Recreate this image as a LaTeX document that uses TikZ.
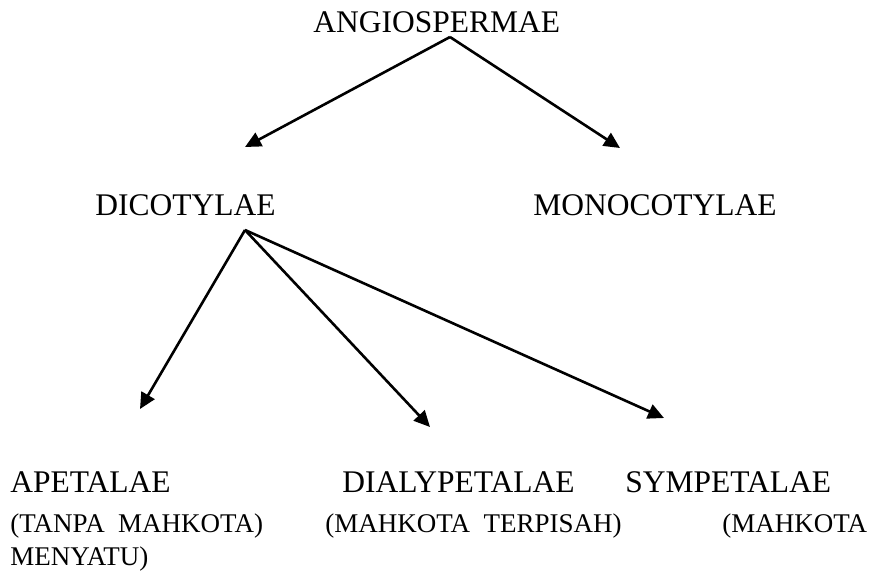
\documentclass[tikz,border=0pt]{standalone}
\usepackage{fontspec}
\setmainfont{Liberation Serif}
\usetikzlibrary{arrows.meta}

\begin{document}
\begin{tikzpicture}[x=0.5pt,y=-0.5pt,
big/.style={font=\fontsize{15.75}{18}\selectfont},
small/.style={font=\fontsize{13.5}{16}\selectfont},
arr/.style={-{Triangle[length=8pt,width=7.5pt]},line width=1.3pt}]
\tikzstyle{every node}=[inner sep=0pt,anchor=base west]
\useasboundingbox (0,0) rectangle (873,574);
% taxa
\node[big] (angio) at (313,32) {ANGIOSPERMAE};
\node[big] (dico) at (95,215) {DICOTYLAE};
\node[big] (mono) at (533,215) {MONOCOTYLAE};
\node[big] (apet) at (10,492) {APETALAE};
\node[big] (dialy) at (342,492) {DIALYPETALAE};
\node[big] (symp) at (625,492) {SYMPETALAE};
\node[small] (apet2) at (10,532) {(TANPA\ \ MAHKOTA)};
\node[small] (dialy2) at (325,532) {(MAHKOTA\ \ TERPISAH)};
\node[small] (symp2) at (722,532) {(MAHKOTA};
\node[small] (symp3) at (10,565) {MENYATU)};
% arrows
\coordinate (angio-s) at (450,37);
\coordinate (dico-n) at (245,147);
\coordinate (mono-n) at (620,148);
\coordinate (dico-s) at (245,230);
\coordinate (apet-n) at (140,409);
\coordinate (dialy-n) at (430,427);
\coordinate (symp-n) at (664,418);
\draw[arr] (angio-s) -- (dico-n);
\draw[arr] (angio-s) -- (mono-n);
\draw[arr] (dico-s) -- (apet-n);
\draw[arr] (dico-s) -- (dialy-n);
\draw[arr] (dico-s) -- (symp-n);
\end{tikzpicture}
\end{document}
